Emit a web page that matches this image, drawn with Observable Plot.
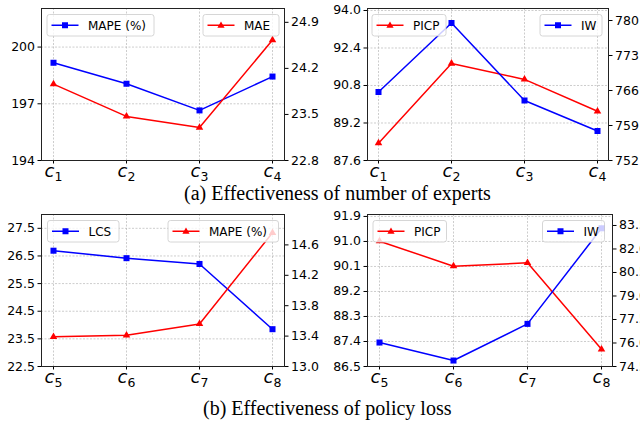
<!DOCTYPE html>
<html>
<head>
<meta charset="utf-8">
<script src="https://cdn.jsdelivr.net/npm/d3@7"></script>
<script src="https://cdn.jsdelivr.net/npm/@observablehq/plot@0.6"></script>
<style>
  html, body { margin: 0; padding: 0; background: #fff; overflow: hidden; }
  #root { position: relative; width: 640px; height: 424px; background: #fff; }
  .panel { position: absolute; width: 320px; height: 185px; }
  .panel svg { position: absolute; left: 0; top: 0; }
  .cap { position: absolute; font-family: "Liberation Serif", "Times New Roman", serif; font-size: 20px; line-height: 1; white-space: nowrap; color: #000; }
</style>
</head>
<body>
<div id="root"></div>
<script>
// ---------- data ----------
const catsA = ["c1", "c2", "c3", "c4"];
const subsA = ["1", "2", "3", "4"];
const catsB = ["c5", "c6", "c7", "c8"];
const subsB = ["5", "6", "7", "8"];

// (a) number of experts
const mapeA = [199.17, 198.06, 196.65, 198.44];
const maeA  = [23.96, 23.47, 23.30, 24.63];
const picpA = [88.34, 91.74, 91.06, 89.70];
const iwA   = [765.7, 779.5, 764.0, 757.9];
// (b) policy loss
const lcsB  = [26.69, 26.42, 26.21, 23.85];
const mapeB = [13.39, 13.41, 13.56, 14.76];
const picpB = [91.01, 90.11, 90.23, 87.12];
const iwB   = [76.03, 74.88, 77.22, 83.32];

// tick labels
const p1Left  = [194, 197, 200];
const p1Right = [22.8, 23.5, 24.2, 24.9];
const p2Left  = [87.6, 89.2, 90.8, 92.4, 94.0];
const p2Right = [752, 759, 766, 773, 780];
const p3Left  = [22.5, 23.5, 24.5, 25.5, 26.5, 27.5];
const p3Right = [13.0, 13.4, 13.8, 14.2, 14.6];
const p4Left  = [86.5, 87.4, 88.3, 89.2, 90.1, 91.0, 91.9];
const p4Right = [74.5, 76.0, 77.5, 79.0, 80.5, 82.0, 83.5];

const BLUE = "#0000ff", RED = "#ff0000";

function rows(cats, vals) { return cats.map((c, i) => ({cat: c, v: vals[i]})); }

function legendMark(x, y, w, label, color, sym) {
  return () => {
    const g = d3.create("svg:g");
    g.append("rect").attr("x", x).attr("y", y).attr("width", w).attr("height", 21.5)
      .attr("rx", 2.5).attr("fill", "white").attr("fill-opacity", 0.8)
      .attr("stroke", "#cccccc").attr("stroke-width", 0.8);
    const cy = y + 10.75, x0 = x + 4.5, x1 = x + 31.5, xm = (x0 + x1) / 2;
    g.append("line").attr("x1", x0).attr("x2", x1).attr("y1", cy).attr("y2", cy)
      .attr("stroke", color).attr("stroke-width", 1.5);
    if (sym === "square") {
      g.append("rect").attr("x", xm - 3).attr("y", cy - 3).attr("width", 6).attr("height", 6).attr("fill", color);
    } else {
      g.append("path").attr("d", `M${xm},${cy - 3.8}L${xm + 3.6},${cy + 2.6}L${xm - 3.6},${cy + 2.6}Z`).attr("fill", color);
    }
    g.append("text").attr("x", x + 41).attr("y", cy + 4.3).attr("text-anchor", "start")
      .attr("font-family", "DejaVu Sans").attr("font-size", 12).attr("fill", "#000").text(label);
    return g.node();
  };
}

function seriesMarks(data, color, sym) {
  return [
    Plot.line(data, {x: "cat", y: "v", stroke: color, strokeWidth: 1.5}),
    Plot.dot(data, {x: "cat", y: "v", fill: color, symbol: sym, r: sym === "square" ? 3.4 : 2.8})
  ];
}

function panel(cfg) {
  const div = document.createElement("div");
  div.className = "panel";
  div.style.left = cfg.left + "px";
  div.style.top = cfg.top + "px";
  const common = {
    width: 320, height: 185,
    marginLeft: cfg.ml, marginRight: cfg.mr, marginTop: 8, marginBottom: 25,
    style: {background: "transparent", fontFamily: "DejaVu Sans", fontSize: "12.5px", color: "#000"},
  };
  const xScale = {type: "point", domain: cfg.cats, padding: 0.15, label: null};
  const grid = {stroke: "#b0b0b0", strokeOpacity: 0.8, strokeWidth: 0.8, strokeDasharray: "2,1.5"};
  const A = Plot.plot({
    ...common,
    x: xScale,
    y: {domain: cfg.lDom, label: null},
    marks: [
      Plot.gridX(cfg.cats, grid),
      Plot.gridY(cfg.lTicks, grid),
      ...seriesMarks(rows(cfg.cats, cfg.lVals), cfg.lColor, cfg.lSym),
      Plot.axisX({tickSize: 3.5, tickPadding: 0.5, fontSize: 18, label: null}),
      Plot.axisY(cfg.lTicks, {tickSize: 3.5, tickPadding: 3, label: null, tickFormat: d3.format(cfg.lFmt)}),
      Plot.frame({stroke: "#222", strokeWidth: 1})
    ]
  });
  const B = Plot.plot({
    ...common,
    x: {...xScale, axis: null},
    y: {domain: cfg.rDom, label: null, axis: null},
    marks: [
      ...seriesMarks(rows(cfg.cats, cfg.rVals), cfg.rColor, cfg.rSym),
      Plot.axisY(cfg.rTicks, {anchor: "right", tickSize: 3.5, tickPadding: 3, label: null, tickFormat: d3.format(cfg.rFmt)}),
      ...cfg.legends
    ]
  });
  // subscripted, italic category labels on the x axis
  A.querySelectorAll('g[aria-label="x-axis tick label"] text').forEach(t => {
    const c = t.textContent;
    const i = cfg.cats.indexOf(c);
    if (i < 0) return;
    t.textContent = "";
    const ns = "http://www.w3.org/2000/svg";
    const a = document.createElementNS(ns, "tspan");
    a.setAttribute("font-style", "italic");
    a.textContent = "c";
    const b = document.createElementNS(ns, "tspan");
    b.setAttribute("font-size", "12.5");
    b.setAttribute("dy", "3.5");
    b.textContent = cfg.subs[i];
    t.appendChild(a); t.appendChild(b);
  });
  div.appendChild(A);
  div.appendChild(B);
  document.getElementById("root").appendChild(div);
}

// Panel 1
panel({
  left: 0, top: 0, ml: 41, mr: 36, cats: catsA, subs: subsA,
  lDom: [194, 202.04], lTicks: p1Left, lFmt: "d", lVals: mapeA, lColor: BLUE, lSym: "square",
  rDom: [22.8, 25.11], rTicks: p1Right, rFmt: ".1f", rVals: maeA, rColor: RED, rSym: "triangle",
  legends: [legendMark(47, 14.5, 107, "MAPE (%)", BLUE, "square"), legendMark(203, 14.5, 76, "MAE", RED, "triangle")]
});
// Panel 2
panel({
  left: 320, top: 0, ml: 47, mr: 32, cats: catsA, subs: subsA,
  lDom: [87.6, 94.085], lTicks: p2Left, lFmt: ".1f", lVals: picpA, lColor: RED, lSym: "triangle",
  rDom: [752, 782.4], rTicks: p2Right, rFmt: "d", rVals: iwA, rColor: BLUE, rSym: "square",
  legends: [legendMark(52, 14.5, 74, "PICP", RED, "triangle"), legendMark(220, 14.5, 62, "IW", BLUE, "square")]
});
// Panel 3
panel({
  left: 0, top: 206, ml: 41, mr: 36, cats: catsB, subs: subsB,
  lDom: [22.5, 28.0], lTicks: p3Left, lFmt: ".1f", lVals: lcsB, lColor: BLUE, lSym: "square",
  rDom: [13.0, 15.0], rTicks: p3Right, rFmt: ".1f", rVals: mapeB, rColor: RED, rSym: "triangle",
  legends: [legendMark(47.5, 14.5, 71.5, "LCS", BLUE, "square"), legendMark(168, 14.5, 110.5, "MAPE (%)", RED, "triangle")]
});
// Panel 4
panel({
  left: 320, top: 206, ml: 47, mr: 28, cats: catsB, subs: subsB,
  lDom: [86.5, 91.97], lTicks: p4Left, lFmt: ".1f", lVals: picpB, lColor: RED, lSym: "triangle",
  rDom: [74.5, 84.2], rTicks: p4Right, rFmt: ".1f", rVals: iwB, rColor: BLUE, rSym: "square",
  legends: [legendMark(53, 14.5, 73.5, "PICP", RED, "triangle"), legendMark(222.5, 14.5, 62, "IW", BLUE, "square")]
});

// captions
const capA = document.createElement("div");
capA.className = "cap"; capA.style.left = "184px"; capA.style.top = "182.5px";
capA.textContent = "(a) Effectiveness of number of experts";
const capB = document.createElement("div");
capB.className = "cap"; capB.style.left = "203px"; capB.style.top = "397.5px";
capB.textContent = "(b) Effectiveness of policy loss";
document.getElementById("root").appendChild(capA);
document.getElementById("root").appendChild(capB);
</script>
</body>
</html>
